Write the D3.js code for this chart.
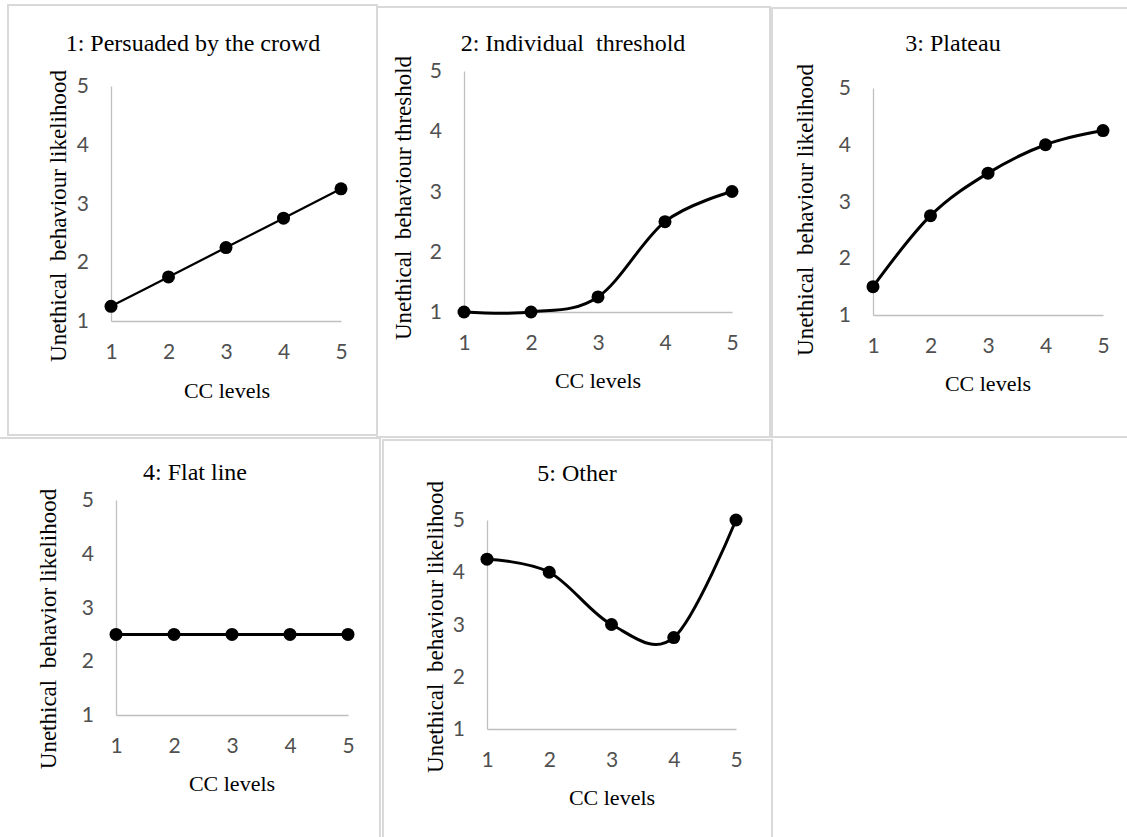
<!DOCTYPE html>
<html>
<head>
<meta charset="utf-8">
<script src="https://cdn.jsdelivr.net/npm/d3@7"></script>
<style>
  body { margin: 0; background: #fff; }
  svg { display: block; }
  .serif { font-family: "Liberation Serif", "Times New Roman", serif; fill: #000; white-space: pre; }
</style>
</head>
<body>
<div id="chart"></div>
<script>
// Data
const ccLevels = [1, 2, 3, 4, 5];
const yTicks = [1, 2, 3, 4, 5];
const titles = ["1: Persuaded by the crowd", "2: Individual  threshold", "3: Plateau", "4: Flat line", "5: Other"];
const yTitles = [
    "Unethical  behaviour likelihood",
    "Unethical  behaviour threshold",
    "Unethical  behaviour likelihood",
    "Unethical  behavior likelihood",
    "Unethical  behaviour likelihood"
];
const xTitle = "CC levels";
const crowd = [1.25, 1.75, 2.25, 2.75, 3.25];
const threshold = [1, 1, 1.25, 2.5, 3];
const plateau = [1.5, 2.75, 3.5, 4, 4.25];
const flat = [2.5, 2.5, 2.5, 2.5, 2.5];
const other = [4.25, 4, 3, 2.75, 5];
const seriesList = [crowd, threshold, plateau, flat, other];

// Layout of each panel (box, plot area, label positions)
const panels = [
    { box: [8, 5, 369, 430], x0: 111, x1: 341, yTop: 86, yBot: 321, title: [193, 43], xt: [227, 390], yt: [58, 216], lw: 2.25 },
    { box: [377, 7, 393, 430], x0: 464, x1: 732, yTop: 71, yBot: 312, title: [573, 43], xt: [598, 380], yt: [403, 198], lw: 3 },
    { box: [772, 8, 360, 429], x0: 873, x1: 1103, yTop: 88, yBot: 315, title: [953, 43], xt: [988, 383], yt: [805, 210], lw: 3 },
    { box: [-2, 438, 382, 410], x0: 116, x1: 348, yTop: 500, yBot: 715, title: [195, 472], xt: [232, 783], yt: [48, 629], lw: 3 },
    { box: [383, 440, 389, 410], x0: 487, x1: 736, yTop: 520, yBot: 729, title: [577, 473], xt: [612, 797], yt: [435, 627], lw: 3 }
];

const svg = d3.select("#chart")
    .append("svg")
    .attr("width", 1127)
    .attr("height", 837);

panels.forEach((p, i) => {
    const g = svg.append("g");

    // panel frame
    g.append("rect")
        .attr("x", p.box[0])
        .attr("y", p.box[1])
        .attr("width", p.box[2])
        .attr("height", p.box[3])
        .attr("fill", "none")
        .attr("stroke", "#d9d9d9")
        .attr("stroke-width", 2);

    const x = d3.scaleLinear().domain([1, 5]).range([p.x0, p.x1]);
    const y = d3.scaleLinear().domain([1, 5]).range([p.yBot, p.yTop]);

    // axes
    const xAxis = g.append("g")
        .attr("transform", "translate(0," + p.yBot + ")")
        .call(d3.axisBottom(x).tickValues(ccLevels).tickSize(0).tickPadding(23).tickFormat(d3.format("d")));
    const yAxis = g.append("g")
        .attr("transform", "translate(" + p.x0 + ",0)")
        .call(d3.axisLeft(y).tickValues(yTicks).tickSize(0).tickPadding(22).tickFormat(d3.format("d")));
    [xAxis, yAxis].forEach(a => {
        a.selectAll(".tick text")
            .style("font-family", "Lato, 'Open Sans', sans-serif")
            .style("font-size", "21px")
            .attr("fill", "#505050");
        a.select(".domain").attr("stroke", "#bfbfbf").attr("stroke-width", 1.3);
    });

    // line + markers
    const series = seriesList[i];
    const pts = ccLevels.map((c, k) => [c, series[k]]);
    const line = d3.line()
        .x(d => x(d[0]))
        .y(d => y(d[1]))
        .curve(d3.curveCardinal.tension(0));
    g.append("path")
        .datum(pts)
        .attr("d", line)
        .attr("fill", "none")
        .attr("stroke", "#000")
        .attr("stroke-width", p.lw);
    g.selectAll("circle.pt")
        .data(pts)
        .join("circle")
        .attr("class", "pt")
        .attr("cx", d => x(d[0]))
        .attr("cy", d => y(d[1]))
        .attr("r", 6.5)
        .attr("fill", "#000");

    // titles
    g.append("text")
        .attr("class", "serif")
        .attr("x", p.title[0])
        .attr("y", p.title[1])
        .attr("dy", "0.35em")
        .attr("text-anchor", "middle")
        .style("font-size", "24px")
        .text(titles[i]);
    g.append("text")
        .attr("class", "serif")
        .attr("x", p.xt[0])
        .attr("y", p.xt[1])
        .attr("dy", "0.35em")
        .attr("text-anchor", "middle")
        .style("font-size", "22px")
        .text(xTitle);
    g.append("text")
        .attr("class", "serif")
        .attr("transform", "translate(" + p.yt[0] + "," + p.yt[1] + ") rotate(-90)")
        .attr("dy", "0.35em")
        .attr("text-anchor", "middle")
        .style("font-size", "23px")
        .text(yTitles[i]);
});
</script>
</body>
</html>
